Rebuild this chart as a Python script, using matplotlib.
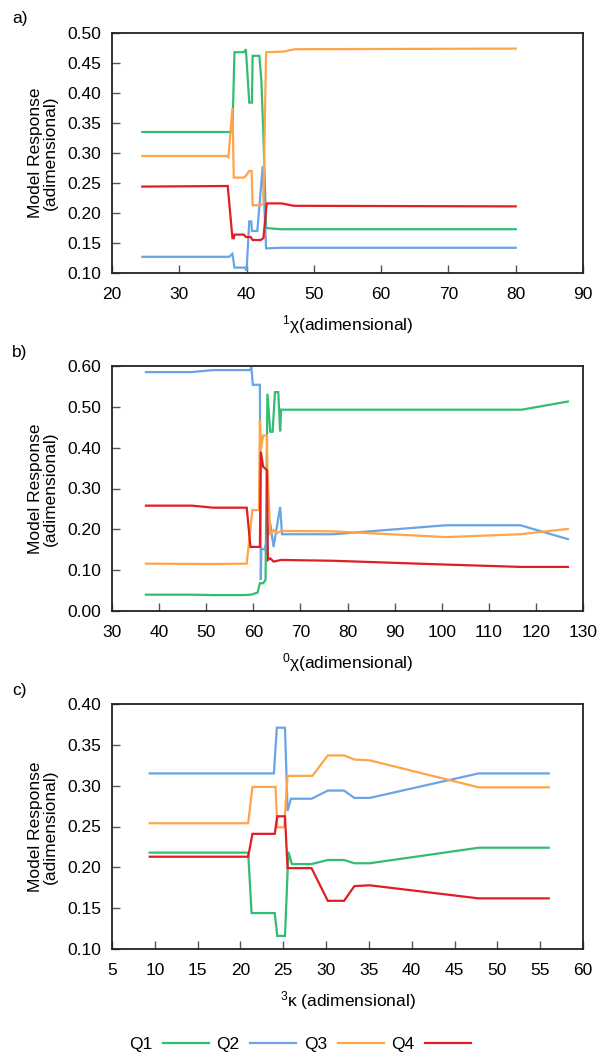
import matplotlib
matplotlib.use("Agg")
import matplotlib.pyplot as plt
from matplotlib.lines import Line2D

plt.rcParams['font.family'] = ['Liberation Sans', 'DejaVu Sans']
plt.rcParams['mathtext.fontset'] = 'custom'
plt.rcParams['mathtext.rm'] = 'Liberation Sans'
plt.rcParams['mathtext.default'] = 'regular'

series_names = ["Q1", "Q2", "Q3", "Q4"]
colors = ["#33bd73", "#68a4e6", "#ffa448", "#e11d26"]

# ---- panel a: 1chi ----
a_q1_x = [24.5, 37.9, 38.2, 39.6, 39.9, 40.4, 40.8, 40.9, 41.9, 42.2, 42.5, 42.9, 45.0, 80.0]
a_q1_y = [0.335, 0.335, 0.468, 0.468, 0.473, 0.384, 0.384, 0.462, 0.462, 0.420, 0.330, 0.175, 0.173, 0.173]
a_q2_x = [24.5, 37.4, 37.9, 38.2, 39.8, 40.0, 40.4, 40.7, 40.8, 41.6, 42.4, 42.9, 45.0, 80.0]
a_q2_y = [0.127, 0.127, 0.132, 0.109, 0.109, 0.104, 0.186, 0.186, 0.170, 0.170, 0.278, 0.141, 0.142, 0.142]
a_q3_x = [24.5, 37.0, 37.3, 37.9, 38.1, 39.6, 39.9, 40.4, 40.75, 40.9, 42.1, 42.5, 42.9, 45.5, 47.2, 80.0]
a_q3_y = [0.295, 0.295, 0.293, 0.375, 0.259, 0.259, 0.262, 0.270, 0.270, 0.213, 0.213, 0.216, 0.468, 0.469, 0.473, 0.474]
a_q4_x = [24.5, 37.2, 37.9, 38.1, 38.2, 39.6, 39.9, 40.6, 40.9, 42.1, 42.5, 43.0, 45.2, 47.0, 80.0]
a_q4_y = [0.244, 0.245, 0.158, 0.158, 0.164, 0.164, 0.160, 0.160, 0.155, 0.155, 0.158, 0.216, 0.216, 0.212, 0.211]

# ---- panel b: 0chi ----
b_q1_x = [37.2, 47.0, 51.5, 58.0, 59.5, 60.9, 61.4, 62.1, 62.6, 63.0, 63.6, 64.1, 64.6, 65.3, 65.7, 65.9, 117.0, 126.8]
b_q1_y = [0.040, 0.040, 0.039, 0.039, 0.040, 0.045, 0.068, 0.068, 0.076, 0.532, 0.439, 0.439, 0.536, 0.536, 0.440, 0.493, 0.493, 0.513]
b_q2_x = [37.2, 46.8, 51.5, 59.3, 59.6, 59.9, 61.4, 61.6, 61.7, 62.4, 63.6, 64.3, 65.7, 66.1, 77.0, 100.9, 116.7, 126.8]
b_q2_y = [0.585, 0.585, 0.590, 0.590, 0.597, 0.554, 0.554, 0.076, 0.153, 0.150, 0.215, 0.157, 0.255, 0.188, 0.188, 0.210, 0.210, 0.176]
b_q3_x = [37.2, 51.5, 58.6, 59.8, 61.2, 61.4, 61.6, 62.1, 62.9, 63.0, 63.6, 64.3, 65.0, 65.9, 77.0, 101.0, 116.7, 126.8]
b_q3_y = [0.116, 0.115, 0.116, 0.247, 0.247, 0.467, 0.394, 0.430, 0.430, 0.349, 0.186, 0.198, 0.190, 0.196, 0.195, 0.181, 0.188, 0.201]
b_q4_x = [37.2, 47.0, 51.5, 58.6, 59.4, 61.4, 61.6, 62.1, 62.9, 63.1, 63.6, 64.3, 65.9, 77.0, 100.0, 116.7, 126.8]
b_q4_y = [0.258, 0.258, 0.253, 0.253, 0.157, 0.157, 0.390, 0.353, 0.345, 0.125, 0.129, 0.121, 0.125, 0.123, 0.114, 0.108, 0.108]

# ---- panel c: 3kappa ----
c_q1_x = [9.4, 20.9, 21.3, 24.0, 24.3, 25.2, 25.6, 26.0, 28.3, 30.2, 32.1, 33.3, 35.1, 47.8, 56.0]
c_q1_y = [0.218, 0.218, 0.144, 0.144, 0.116, 0.116, 0.219, 0.204, 0.204, 0.209, 0.209, 0.205, 0.205, 0.224, 0.224]
c_q2_x = [9.4, 23.9, 24.25, 25.2, 25.5, 25.9, 28.3, 30.2, 32.1, 33.3, 35.1, 47.8, 56.0]
c_q2_y = [0.315, 0.315, 0.371, 0.371, 0.269, 0.284, 0.284, 0.294, 0.294, 0.285, 0.285, 0.315, 0.315]
c_q3_x = [9.4, 20.9, 21.4, 24.1, 24.3, 25.1, 25.5, 28.4, 30.2, 32.1, 33.3, 35.1, 47.8, 56.0]
c_q3_y = [0.254, 0.254, 0.2985, 0.2985, 0.249, 0.249, 0.312, 0.312, 0.337, 0.337, 0.332, 0.331, 0.298, 0.298]
c_q4_x = [9.4, 20.9, 21.4, 24.0, 24.3, 25.2, 25.5, 28.3, 30.2, 32.1, 33.3, 35.1, 47.8, 56.0]
c_q4_y = [0.213, 0.213, 0.241, 0.241, 0.2625, 0.2625, 0.199, 0.199, 0.159, 0.159, 0.177, 0.178, 0.162, 0.162]

panels = [
    dict(label="a)", xlabel=r"$^{1}$χ(adimensional)",
         xlim=(20, 90), xticks=list(range(20, 91, 10)),
         ylim=(0.10, 0.50), yticks=[0.10, 0.15, 0.20, 0.25, 0.30, 0.35, 0.40, 0.45, 0.50],
         data=[(a_q1_x, a_q1_y), (a_q2_x, a_q2_y), (a_q3_x, a_q3_y), (a_q4_x, a_q4_y)],
         rect=[112, 33, 583, 273]),
    dict(label="b)", xlabel=r"$^{0}$χ(adimensional)",
         xlim=(30, 130), xticks=list(range(30, 131, 10)),
         ylim=(0.0, 0.60), yticks=[0.0, 0.1, 0.2, 0.3, 0.4, 0.5, 0.6],
         data=[(b_q1_x, b_q1_y), (b_q2_x, b_q2_y), (b_q3_x, b_q3_y), (b_q4_x, b_q4_y)],
         rect=[112, 366, 583, 611]),
    dict(label="c)", xlabel=r"$^{3}$κ (adimensional)",
         xlim=(5, 60), xticks=list(range(5, 61, 5)),
         ylim=(0.10, 0.40), yticks=[0.10, 0.15, 0.20, 0.25, 0.30, 0.35, 0.40],
         data=[(c_q1_x, c_q1_y), (c_q2_x, c_q2_y), (c_q3_x, c_q3_y), (c_q4_x, c_q4_y)],
         rect=[112, 704, 583, 949]),
]

W, H = 600, 1057
fig = plt.figure(figsize=(W / 100, H / 100), dpi=100)
FS = 12.5

for p in panels:
    l, t, r, b = p["rect"]
    ax = fig.add_axes([l / W, 1 - b / H, (r - l) / W, (b - t) / H])
    for (xs, ys), c in zip(p["data"], colors):
        ax.plot(xs, ys, color=c, lw=1.6, solid_joinstyle='miter')
    ax.set_xlim(*p["xlim"])
    ax.set_ylim(*p["ylim"])
    ax.set_xticks(p["xticks"])
    ax.set_yticks(p["yticks"])
    ax.set_yticklabels([f"{v:.2f}" for v in p["yticks"]])
    ax.tick_params(axis='both', direction='in', length=6, width=1, labelsize=FS,
                   color='#555555')
    ax.tick_params(axis='x', pad=10)
    ax.tick_params(axis='y', pad=8)
    for s in ax.spines.values():
        s.set_linewidth(1.3)
        s.set_color('#222222')
    ax.set_xlabel(p["xlabel"], fontsize=FS, labelpad=8)
    ax.set_ylabel("Model Response\n(adimensional)", fontsize=FS, linespacing=1.0)
    ax.yaxis.set_label_coords(-0.115, 0.5)
    fig.text(12 / W, 1 - (t - 14) / H, p["label"], fontsize=FS, ha='left', va='center')

handles = [Line2D([], [], color=c, lw=1.6) for c in colors]
fig.legend(handles, series_names, loc='center', bbox_to_anchor=(0.5, 1 - 1044 / H),
           ncol=4, frameon=False, markerfirst=False, fontsize=FS,
           handlelength=2.65, handletextpad=0.6, columnspacing=0.45)

fig.savefig("out.png", dpi=100)
